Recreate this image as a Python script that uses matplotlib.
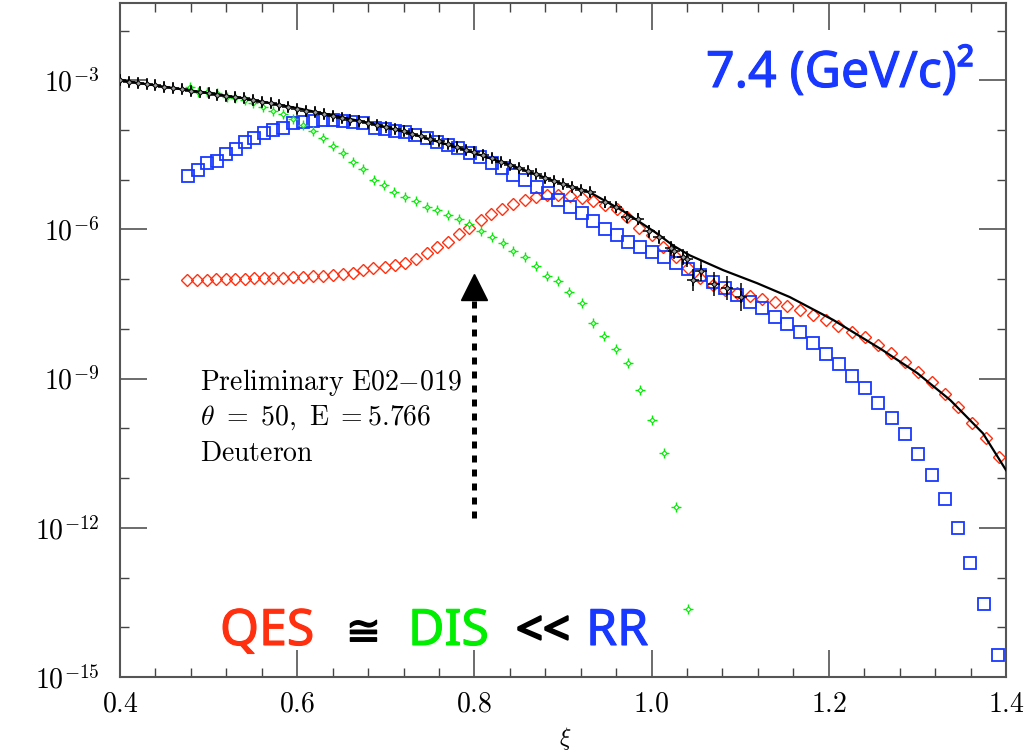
import numpy as np
import matplotlib.pyplot as plt
import matplotlib.patheffects as pe
from matplotlib.ticker import FixedLocator, FuncFormatter

plt.rcParams['mathtext.fontset'] = 'cm'

# --- data (xi, log10 of value) ---

# model curve (solid black line)
xi_model = [0.400, 0.539, 0.600, 0.682, 0.730, 0.784, 0.840, 0.897, 0.930, 0.968,
            1.006, 1.024, 1.043, 1.081, 1.119, 1.156, 1.205, 1.261, 1.300, 1.337,
            1.374, 1.400]
log_model = [-3.00, -3.36, -3.56, -3.86, -4.08, -4.37, -4.70, -5.07, -5.25, -5.63,
             -6.08, -6.32, -6.52, -6.82, -7.08, -7.36, -7.82, -8.43, -8.89, -9.43,
             -10.10, -10.84]

# data (black points with error bars)
xi_data = [0.40, 0.41, 0.42, 0.43, 0.44, 0.45, 0.46, 0.47, 0.48, 0.49,
           0.50, 0.51, 0.52, 0.53, 0.54, 0.55, 0.56, 0.57, 0.58, 0.59,
           0.60, 0.61, 0.62, 0.63, 0.64, 0.65, 0.66, 0.67, 0.68, 0.69,
           0.70, 0.71, 0.72, 0.73, 0.74, 0.75, 0.76, 0.77, 0.78, 0.79,
           0.80, 0.81, 0.82, 0.83, 0.84, 0.85, 0.86, 0.87, 0.88, 0.89,
           0.90, 0.91, 0.92, 0.93,
           0.947, 0.960, 0.972, 0.985, 0.997, 1.008, 1.022, 1.025, 1.035, 1.040,
           1.047, 1.056, 1.070, 1.085, 1.101]
log_data = [-3.00, -3.03, -3.05, -3.08, -3.10, -3.13, -3.16, -3.18, -3.21, -3.23,
            -3.26, -3.29, -3.31, -3.34, -3.36, -3.39, -3.43, -3.46, -3.50, -3.53,
            -3.57, -3.61, -3.64, -3.68, -3.71, -3.75, -3.79, -3.82, -3.86, -3.89,
            -3.93, -3.98, -4.03, -4.08, -4.13, -4.18, -4.23, -4.29, -4.34, -4.40,
            -4.45, -4.51, -4.57, -4.64, -4.70, -4.76, -4.83, -4.89, -4.96, -5.02,
            -5.09, -5.15, -5.20, -5.25,
            -5.45, -5.55, -5.75, -5.79, -6.04, -6.16, -6.38, -6.44, -6.56, -6.60,
            -7.02, -6.84, -7.10, -7.18, -7.36]
err_data = [0.10] * 54 + [0.11, 0.11, 0.12, 0.12, 0.13, 0.14, 0.15, 0.15, 0.16, 0.16,
                          0.22, 0.20, 0.24, 0.24, 0.28]

# RR (blue squares)
xi_rr = [0.477, 0.488, 0.498, 0.510, 0.520, 0.531, 0.541, 0.551, 0.563, 0.573,
         0.584, 0.595, 0.607, 0.618, 0.629, 0.640, 0.652, 0.663, 0.674, 0.688,
         0.699, 0.710, 0.722, 0.733, 0.747, 0.758, 0.770, 0.782, 0.795, 0.806,
         0.820, 0.831, 0.844, 0.857, 0.871, 0.883, 0.894, 0.908, 0.921, 0.934,
         0.947, 0.961, 0.973, 0.987, 1.001, 1.014, 1.028, 1.041, 1.055, 1.069,
         1.083, 1.096, 1.111, 1.125, 1.139, 1.153, 1.168, 1.182, 1.197, 1.212,
         1.226, 1.241, 1.256, 1.271, 1.286, 1.301, 1.317, 1.331, 1.346, 1.359,
         1.375, 1.391]
log_rr = [-4.93, -4.81, -4.67, -4.63, -4.49, -4.39, -4.25, -4.17, -4.07, -3.99,
          -3.95, -3.86, -3.84, -3.82, -3.80, -3.80, -3.82, -3.84, -3.86, -3.95,
          -3.97, -4.01, -4.05, -4.11, -4.17, -4.25, -4.31, -4.37, -4.47, -4.55,
          -4.67, -4.77, -4.91, -5.01, -5.15, -5.27, -5.41, -5.55, -5.67, -5.83,
          -6.00, -6.12, -6.26, -6.36, -6.46, -6.56, -6.68, -6.80, -6.92, -7.06,
          -7.18, -7.32, -7.46, -7.58, -7.76, -7.91, -8.07, -8.29, -8.51, -8.71,
          -8.95, -9.19, -9.49, -9.79, -10.12, -10.52, -10.94, -11.42, -12.01, -12.71,
          -13.53, -14.56]

# QES (red diamonds)
xi_qes = [0.476, 0.487, 0.498, 0.508, 0.520, 0.530, 0.541, 0.551, 0.563, 0.573,
          0.584, 0.595, 0.607, 0.618, 0.629, 0.640, 0.652, 0.663, 0.674, 0.686,
          0.699, 0.710, 0.722, 0.734, 0.747, 0.758, 0.770, 0.783, 0.794, 0.807,
          0.819, 0.831, 0.844, 0.857, 0.870, 0.882, 0.894, 0.908, 0.921, 0.934,
          0.947, 0.961, 0.972, 0.986, 1.001, 1.013, 1.028, 1.041, 1.055, 1.069,
          1.083, 1.096, 1.111, 1.125, 1.139, 1.153, 1.168, 1.182, 1.197, 1.210,
          1.226, 1.241, 1.256, 1.270, 1.286, 1.301, 1.317, 1.331, 1.346, 1.362,
          1.377, 1.392]
log_qes = [-7.02, -7.02, -7.02, -7.00, -7.00, -7.00, -7.00, -6.98, -6.98, -6.98,
           -6.98, -6.96, -6.96, -6.94, -6.94, -6.92, -6.90, -6.88, -6.82, -6.78,
           -6.76, -6.72, -6.68, -6.60, -6.48, -6.36, -6.26, -6.10, -5.97, -5.81,
           -5.69, -5.59, -5.49, -5.41, -5.35, -5.31, -5.31, -5.33, -5.37, -5.43,
           -5.51, -5.59, -5.75, -5.97, -6.12, -6.36, -6.56, -6.78, -6.98, -7.12,
           -7.22, -7.28, -7.34, -7.40, -7.46, -7.54, -7.62, -7.72, -7.82, -7.94,
           -8.07, -8.17, -8.33, -8.49, -8.67, -8.87, -9.07, -9.31, -9.57, -9.89,
           -10.20, -10.58]

# DIS (green stars)
xi_dis = [0.479, 0.488, 0.498, 0.509, 0.521, 0.530, 0.541, 0.550, 0.561, 0.573,
          0.584, 0.595, 0.607, 0.618, 0.629, 0.640, 0.652, 0.663, 0.674, 0.687,
          0.698, 0.709, 0.722, 0.734, 0.747, 0.758, 0.770, 0.783, 0.794, 0.807,
          0.820, 0.832, 0.844, 0.857, 0.870, 0.882, 0.894, 0.907, 0.921, 0.934,
          0.946, 0.960, 0.973, 0.987, 1.000, 1.014, 1.028, 1.041]
log_dis = [-3.14, -3.24, -3.24, -3.26, -3.34, -3.36, -3.40, -3.46, -3.54, -3.62,
           -3.68, -3.78, -3.90, -4.01, -4.17, -4.33, -4.47, -4.65, -4.79, -5.01,
           -5.11, -5.25, -5.35, -5.43, -5.55, -5.61, -5.71, -5.79, -5.89, -6.04,
           -6.16, -6.28, -6.44, -6.56, -6.74, -6.94, -7.04, -7.26, -7.48, -7.88,
           -8.15, -8.41, -8.69, -9.23, -9.83, -10.50, -11.58, -13.63]

y_major = [1e-15, 1e-12, 1e-9, 1e-6, 1e-3]
y_minor = [10.0 ** k for k in range(-15, 0)]
x_major = [0.4, 0.6, 0.8, 1.0, 1.2, 1.4]

RED = '#ff3010'
GREEN = '#00ee00'
BLUE = '#1838ff'

W, H = 1025, 753
fig = plt.figure(figsize=(W / 100, H / 100), dpi=100)
ax = fig.add_axes([120 / W, 1 - 677 / H, 886 / W, 674 / H])


def p(v):
    return [10.0 ** a for a in v]


ax.plot(xi_model, p(log_model), color='k', lw=1.6, zorder=3)

ax.plot(xi_qes, p(log_qes), ls='none', marker='D', ms=6.2, mfc='none',
        mec=RED, mew=1.0, zorder=2)
ax.plot(xi_rr, p(log_rr), ls='none', marker='s', ms=8.6, mfc='none',
        mec=BLUE, mew=1.3, zorder=2)
ax.plot(xi_dis, p(log_dis), ls='none', marker='+', ms=7.5, mec=GREEN,
        mew=1.0, zorder=2)
ax.plot(xi_dis, p(log_dis), ls='none', marker='D', ms=2.6, mfc='white',
        mec=GREEN, mew=0.8, zorder=2)

y_d = np.array(p(log_data))
e_d = np.array(err_data)
ax.errorbar(xi_data, y_d, yerr=[y_d - y_d * 10 ** (-e_d), y_d * 10 ** e_d - y_d],
            fmt='none', ecolor='k', elinewidth=1.1, capsize=0, zorder=4)
ax.plot(xi_data, y_d, ls='none', marker='+', ms=8, mec='k', mew=1.1, zorder=4)
ax.plot(xi_data, y_d, ls='none', marker='D', ms=2.8, mfc='#999999', mec='k',
        mew=0.7, zorder=5)

# dotted arrow
ARROW_XI = 0.8
ax.plot([ARROW_XI, ARROW_XI], [10 ** -11.80, 10 ** -7.38], color='k', lw=3.6,
        ls=(0, (1.4, 1.4)), dash_capstyle='butt', zorder=3)
ax.plot([ARROW_XI], [10 ** -7.16], marker='^', ms=19, color='k', zorder=3)

ax.set_xlim(0.4, 1.4)
ax.set_ylim(1e-15, 10 ** -1.446)
ax.set_yscale('log')
ax.xaxis.set_major_locator(FixedLocator(x_major))
ax.xaxis.set_minor_locator(FixedLocator(np.round(np.arange(0.44, 1.4, 0.04), 2)))
ax.yaxis.set_major_locator(FixedLocator(y_major))
ax.yaxis.set_minor_locator(FixedLocator(y_minor))
ax.xaxis.set_major_formatter(FuncFormatter(lambda v, pos: r'$%.1f$' % v))
ax.yaxis.set_major_formatter(FuncFormatter(lambda v, pos: r'$10^{%d}$' % round(np.log10(v))))
ax.yaxis.set_minor_formatter(FuncFormatter(lambda v, pos: ''))

ax.tick_params(which='both', direction='in', top=True, right=True, color='#444444')
ax.tick_params(which='major', length=19.5, width=1.1, labelsize=20)
ax.tick_params(which='minor', length=6.5, width=1.0)
ax.tick_params(axis='x', pad=9)
ax.tick_params(axis='y', pad=15)
for s in ax.spines.values():
    s.set_color('#555555')
    s.set_linewidth(1.5)

fig.text(565 / W, 1 - 738 / H, r'$\xi$', ha='center', va='center', fontsize=17)

# annotations
txt_kw = dict(ha='left', va='center', fontsize=20)
fig.text(200 / W, 1 - 382 / H, r'$\mathrm{Preliminary\ E02{-}019}$', **txt_kw)
fig.text(200 / W, 1 - 418 / H, r'$\theta\ =\ 50,\ \mathrm{E}\ \mathrm{=}5.766$', **txt_kw)
fig.text(200 / W, 1 - 453 / H, r'$\mathrm{Deuteron}$', **txt_kw)


def big_text(x, y, s, color, size=36, fam=('Noto Sans', 'DejaVu Sans'), stroke=0.8):
    t = fig.text(x / W, 1 - y / H, s, color=color, fontsize=size, family=list(fam),
                 ha='left', va='baseline')
    t.set_path_effects([pe.withStroke(linewidth=stroke, foreground=color)])
    return t


big_text(706, 87, '7.4 (GeV/c)²', BLUE)
big_text(220, 645, 'QES', RED)
big_text(346, 645, '≅', 'k', size=30, fam=('DejaVu Sans',), stroke=1.0)
big_text(408, 645, 'DIS', GREEN)
big_text(516, 645, '<<', 'k', size=34, stroke=1.6)
big_text(586, 645, 'RR', BLUE)

fig.savefig('out.png', dpi=100)
